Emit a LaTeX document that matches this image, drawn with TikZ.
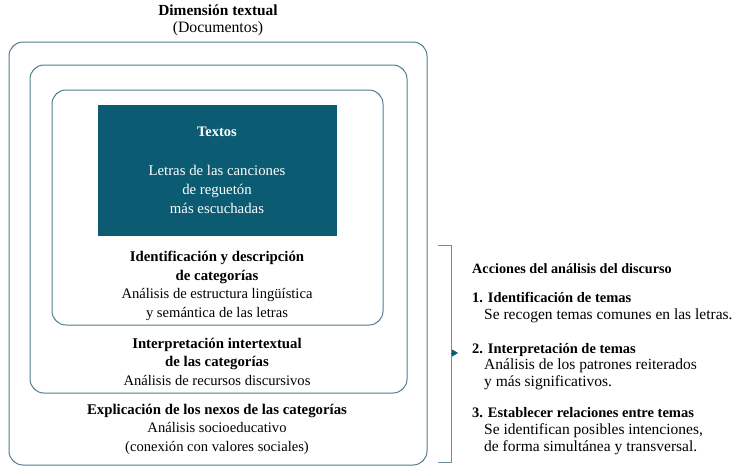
\documentclass[tikz,border=0pt]{standalone}
\usepackage{fontspec}
\setmainfont{Liberation Serif}
\usetikzlibrary{arrows.meta}

\definecolor{bordeazul}{HTML}{4F7C8C}
\definecolor{petroleo}{HTML}{0B5B73}
\definecolor{corchete}{HTML}{6E8D9B}

\newcommand{\negrita}[2]{{\fontsize{#1}{18.5}\selectfont\bfseries #2}}

\tikzset{
  caja/.style={draw=bordeazul, line width=1pt, rounded corners=14pt},
  texto/.style={align=center, inner sep=0pt, font=\fontsize{14.6}{18.5}\selectfont},
  accion/.style={align=left, anchor=west, inner sep=0pt, font=\fontsize{15.5}{16.8}\selectfont}
}

\begin{document}
\begin{tikzpicture}[x=1pt,y=-1pt]
\useasboundingbox (0,0) rectangle (750,472);

\draw[caja] (9,42) rectangle (427,465);
\draw[caja] (30,65) rectangle (407,393);
\draw[caja] (52,90) rectangle (383,325);
\fill[petroleo] (98,105) rectangle (337,236);

\node[texto, font=\fontsize{15.8}{17}\selectfont] (dimension) at (218,20.5) {\negrita{15.4}{Dimensión textual}\\(Documentos)};
\node[texto, text=white] (textos) at (217,132) {\negrita{14.5}{Textos}};
\node[texto, text=white, font=\fontsize{14.8}{19}\selectfont] (letras) at (217,189) {Letras de las canciones\\de reguetón\\más escuchadas};
\node[texto] (identificacion) at (217,286) {\negrita{14.8}{Identificación y descripción}\\\negrita{14.8}{de categorías}\\Análisis de estructura lingüística\\y semántica de las letras};
\node[texto] (interpretacion) at (217,361.5) {\negrita{14.8}{Interpretación intertextual}\\\negrita{14.8}{de las categorías}\\Análisis de recursos discursivos};
\node[texto] (explicacion) at (217,429) {\negrita{14.8}{Explicación de los nexos de las categorías}\\Análisis socioeducativo\\(conexión con valores sociales)};

\coordinate (A) at (438,245);
\coordinate (B) at (451,245);
\coordinate (C) at (451,462);
\coordinate (D) at (438,462);
\coordinate (M) at (451,353);
\coordinate (T) at (458,353);
\draw[draw=corchete, line width=1pt] (A) -- (B) -- (C) -- (D);
\draw[draw=petroleo, -{Triangle[length=6pt,width=7pt]}] (M) -- (T);

\node[accion] (acciones) at (472,269) {\negrita{14.2}{Acciones del análisis del discurso}};
\node[accion] (tema1) at (472,307.5) {\negrita{14.5}{1. Identificación de temas}\\\hspace*{12pt}Se recogen temas comunes en las letras.};
\node[accion] (tema2) at (472,366.5) {\negrita{14.5}{2. Interpretación de temas}\\\hspace*{12pt}Análisis de los patrones reiterados\\\hspace*{12pt}y más significativos.};
\node[accion] (tema3) at (472,431) {\negrita{14.5}{3. Establecer relaciones entre temas}\\\hspace*{12pt}Se identifican posibles intenciones,\\\hspace*{12pt}de forma simultánea y transversal.};
\end{tikzpicture}
\end{document}
